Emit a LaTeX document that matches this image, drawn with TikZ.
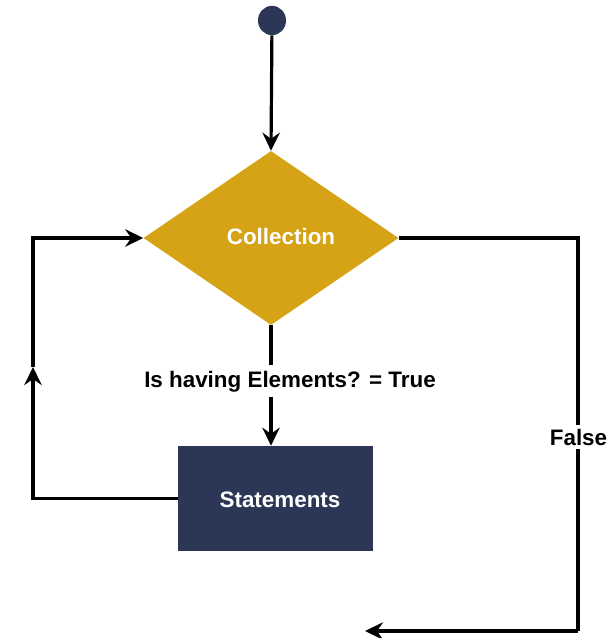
\documentclass[tikz,border=0pt]{standalone}
\usepackage{fontspec}
\setmainfont{Liberation Sans}
\usetikzlibrary{arrows.meta,shapes.geometric}
\definecolor{gold}{HTML}{D6A216}
\definecolor{navy}{HTML}{2C3657}
\begin{document}
\begin{tikzpicture}[x=0.75pt,y=-0.75pt,
  line/.style={line width=2.4pt,line cap=butt},
  arr/.style={line,-{Stealth[length=13.5pt,width=13pt,inset=4.5pt]}},
  txt/.style={font=\fontsize{16.8}{20}\selectfont\bfseries,inner sep=0pt},
  wtxt/.style={txt,text=white}]
\useasboundingbox (0,0) rectangle (611,638);
% start point
\node[ellipse,fill=navy,minimum width=21pt,minimum height=22pt,inner sep=0pt] (s) at (272,20.5) {};
% decision
\node[diamond,fill=gold,inner sep=0pt,aspect=1.466,minimum width=191.25pt,minimum height=130.5pt] (d) at (271,238) {};
\node[wtxt] (dl) at (281,236) {Collection};
% process box
\node[rectangle,fill=navy,minimum width=146.25pt,minimum height=78.75pt,inner sep=0pt] (b) at (275.5,498.5) {};
\node[wtxt] (bl) at (280,500) {Statements};
% condition label
\node[txt,anchor=base,inner ysep=4pt] (c) at (290,387) {Is having Elements? = True};
% corner points
\coordinate (lm) at (33,367);
\coordinate (rb) at (578,631);
\coordinate (re) at (365,631);
% connectors
\draw[arr] (s) -- (d.north);
\draw[line] (d.south) -- (d.south |- c.north);
\draw[arr] (d.south |- c.south) -- (d.south |- b.north);
\draw[arr] (b.west) -| (lm);
\draw[arr] (lm) |- (d.west);
\draw[line] (d.east) -| (rb);
\draw[arr] (rb) -- (re);
\node[txt,fill=white,inner xsep=1pt,inner ysep=3pt] (f) at (578.5,437) {False};
\end{tikzpicture}
\end{document}
